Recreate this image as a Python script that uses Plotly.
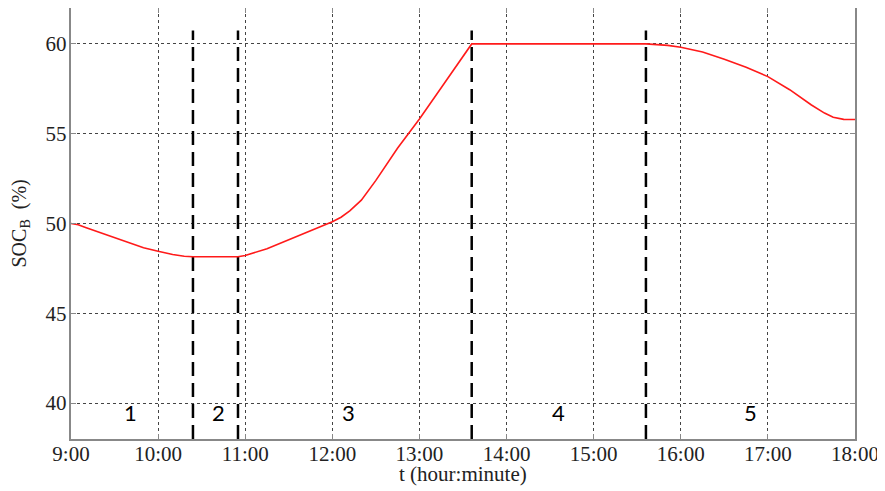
import plotly.graph_objects as go

# time in decimal hours, SOC in %
t_hours = [9.0, 9.083, 9.167, 9.333, 9.5, 9.667, 9.833, 10.0, 10.167, 10.3, 10.4,
           10.917, 11.0, 11.25, 11.5, 11.75, 12.0, 12.1, 12.2, 12.333, 12.5, 12.75,
           13.0, 13.25, 13.45, 13.6, 15.6, 15.72, 15.85, 16.0, 16.25, 16.5, 16.75,
           17.0, 17.25, 17.5, 17.65, 17.75, 17.87, 18.0]
soc_b = [50.0, 49.93, 49.78, 49.5, 49.2, 48.9, 48.65, 48.45, 48.27, 48.18, 48.15,
         48.15, 48.22, 48.6, 49.1, 49.6, 50.1, 50.35, 50.7, 51.3, 52.4, 54.2,
         55.82, 57.56, 58.95, 60.0, 60.0, 59.98, 59.92, 59.81, 59.55, 59.15, 58.7,
         58.18, 57.45, 56.6, 56.15, 55.92, 55.8, 55.79]

boundaries = [10.4, 10.917, 13.6, 15.6]
boundary_top = 60.75
region_labels = ["1", "2", "3", "4", "5"]
region_x = [9.68, 10.69, 12.18, 14.6, 16.8]
region_y = 39.5

tick_vals = [9, 10, 11, 12, 13, 14, 15, 16, 17, 18]
tick_text = ["9:00", "10:00", "11:00", "12:00", "13:00", "14:00", "15:00", "16:00", "17:00", "18:00"]
y_ticks = [40, 45, 50, 55, 60]

y_min, y_max = 38, 62

fig = go.Figure()

for b in boundaries:
    fig.add_trace(go.Scatter(x=[b, b], y=[y_min, boundary_top], mode="lines",
                             line=dict(color="black", width=2.5, dash="14px,7px"),
                             showlegend=False, hoverinfo="skip"))

fig.add_trace(go.Scatter(x=t_hours, y=soc_b, mode="lines",
                         line=dict(color="#ff1a1a", width=1.6),
                         showlegend=False))

for lab, xv in zip(region_labels, region_x):
    fig.add_annotation(x=xv, y=region_y, text=lab, showarrow=False,
                       font=dict(family="Lato", size=22, color="black"))

serif = "Liberation Serif"
fig.add_annotation(xref="paper", yref="paper", x=0.5, y=0, yshift=-35,
                   xanchor="center", yanchor="middle", showarrow=False,
                   text="t (hour:minute)", font=dict(family=serif, size=21, color="#222"))
fig.add_annotation(xref="paper", yref="paper", x=0, y=0.5, xshift=-51,
                   xanchor="center", yanchor="middle", showarrow=False, textangle=-90,
                   text="SOC<sub>B</sub>  (%)", font=dict(family=serif, size=20, color="#222"))

fig.update_xaxes(range=[9, 18], tickvals=tick_vals, ticktext=tick_text,
                 showgrid=True, gridcolor="#444", griddash="dot", gridwidth=1,
                 showline=True, linecolor="#888", linewidth=1.5, mirror="ticks",
                 ticks="inside", ticklen=5, tickcolor="#888", zeroline=False,
                 automargin=False, ticklabelstandoff=-5,
                 tickfont=dict(family=serif, size=21, color="#222"))
fig.update_yaxes(range=[y_min, y_max], tickvals=y_ticks,
                 showgrid=True, gridcolor="#444", griddash="dot", gridwidth=1,
                 showline=True, linecolor="#888", linewidth=1.5, mirror="ticks",
                 ticks="inside", ticklen=5, tickcolor="#888", zeroline=False,
                 automargin=False, ticklabelposition="inside", ticklabelstandoff=-29,
                 tickfont=dict(family=serif, size=21, color="#222"))

# page body has an 8px default margin, so the figure is offset by 8px
fig.update_layout(width=877, height=483, plot_bgcolor="white", paper_bgcolor="white",
                  margin=dict(l=63, r=30, t=0, b=52))

fig.write_html("out.html")
